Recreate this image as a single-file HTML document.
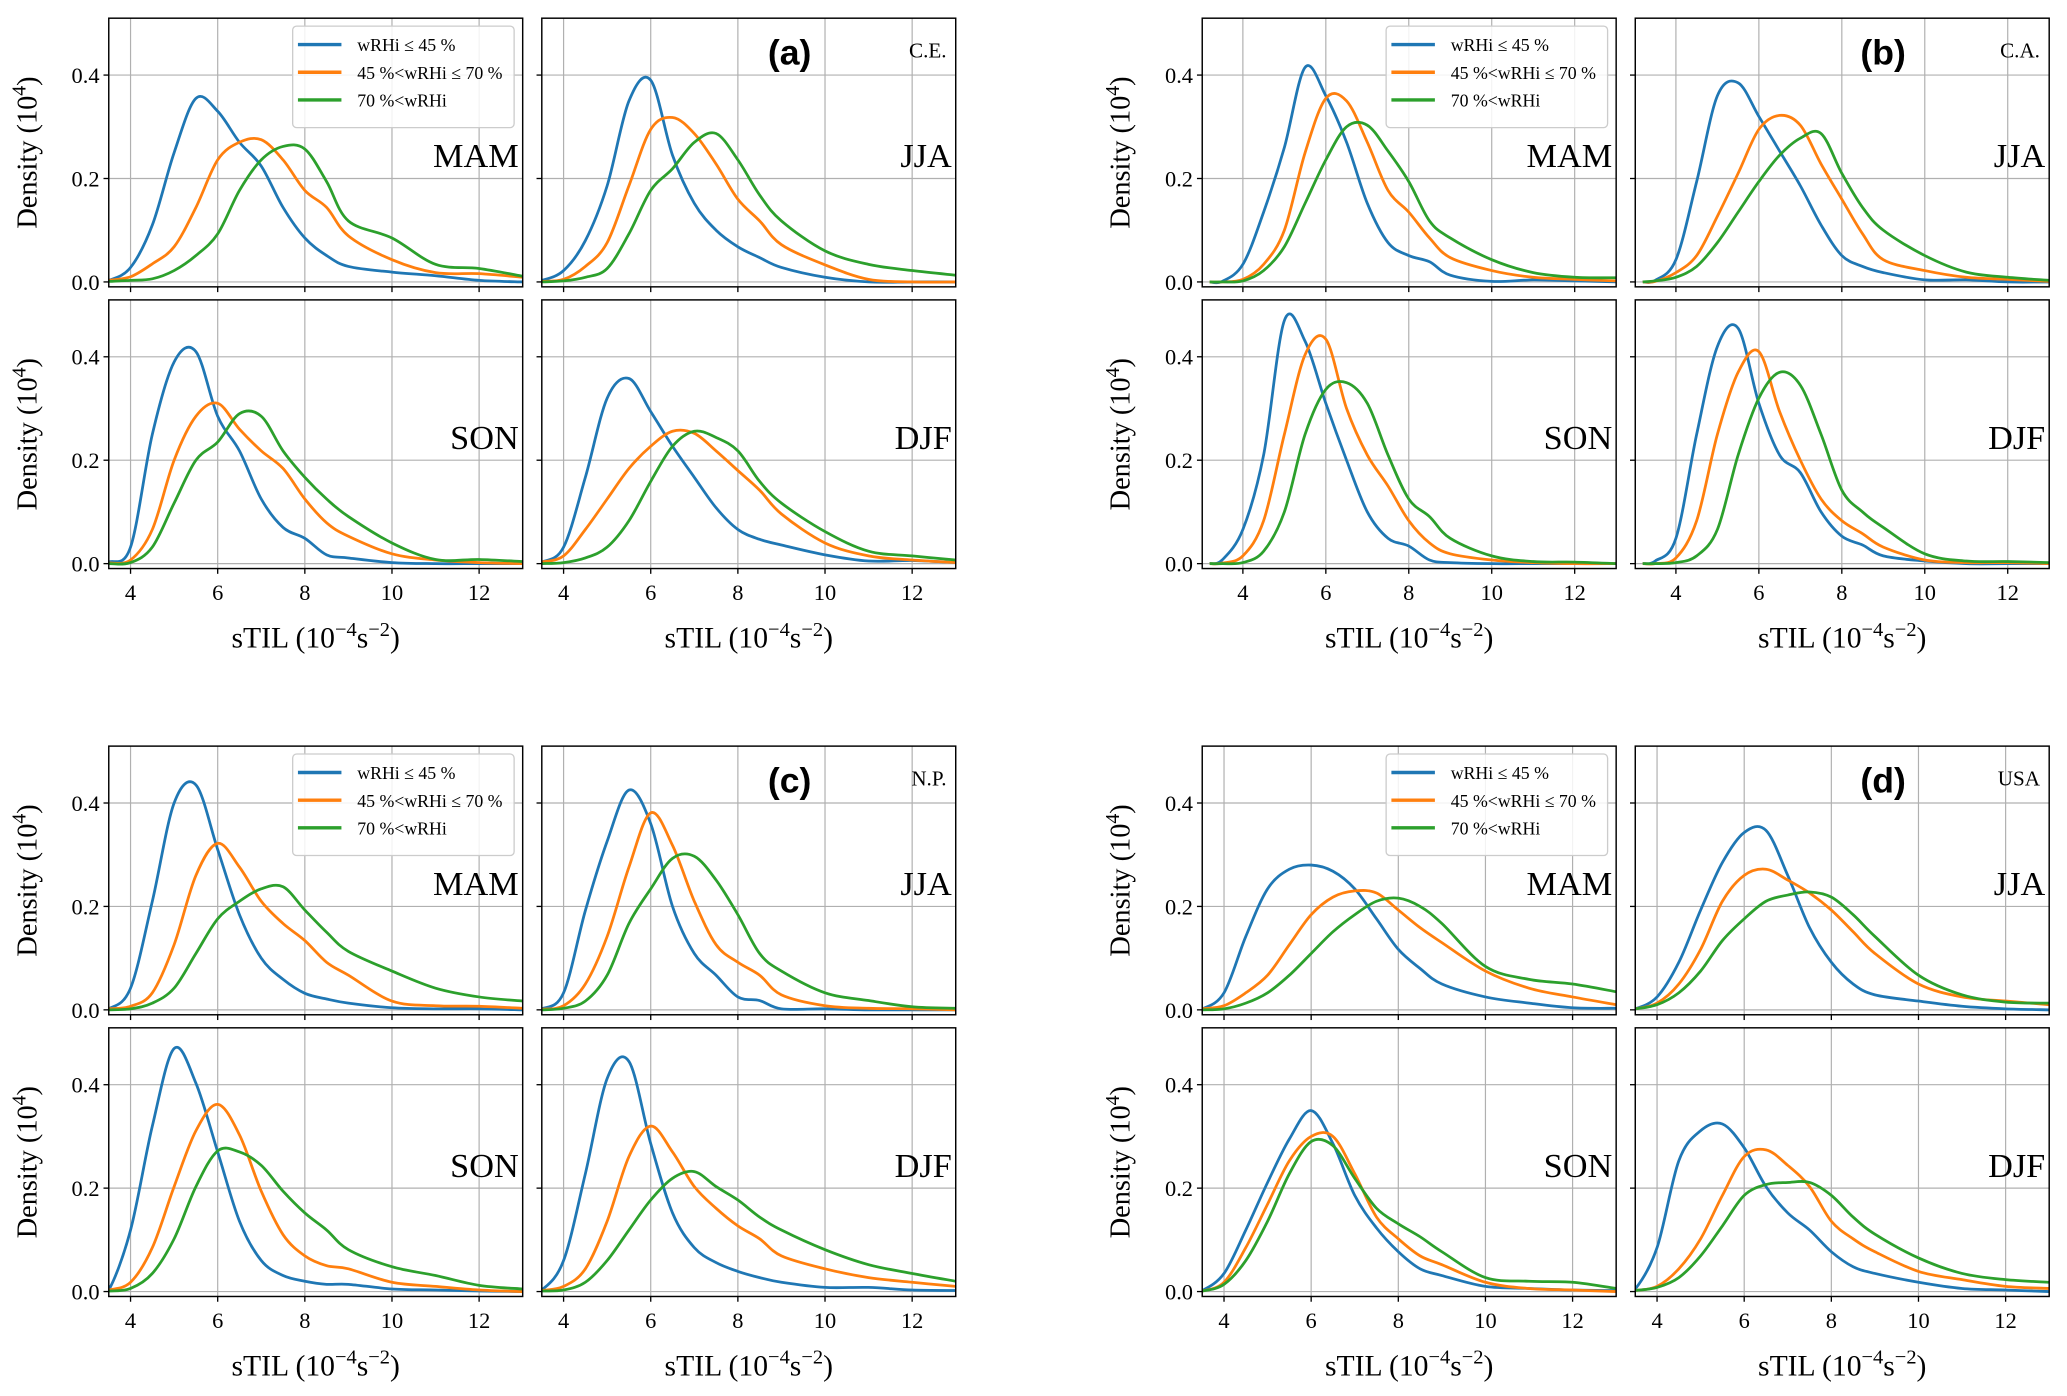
<!DOCTYPE html>
<html><head><meta charset="utf-8"><title>sTIL density</title>
<style>
html,body{margin:0;padding:0;background:#fff;}
svg{display:block;}
text{font-family:"Liberation Serif",serif;fill:#000;}
</style></head>
<body>
<svg id="chart" xmlns="http://www.w3.org/2000/svg" width="2067" height="1396" viewBox="0 0 1568 1059">
<rect width="1568" height="1059" fill="#fff"/>
</svg>
<script>
// shared x grid (sTIL, 1e-4 s^-2)
const xGrid = [3.2,3.5,4,4.5,5,5.5,6,6.5,7,7.5,8,8.5,9,10,11,12,13];
const seasons = ['MAM','JJA','SON','DJF'];
const seriesLabels = ['wRHi ≤ 45 %','45 %<wRHi ≤ 70 %','70 %<wRHi'];
const yTicks = [0.0,0.2,0.4];
const yTickLabels = ['0.0','0.2','0.4'];
const xTicks = [4,6,8,10,12];
const xTickLabels = ['4','6','8','10','12'];

// (a) C.E.
const a_MAM_low  = [0,0.003,0.028,0.11,0.25,0.355,0.33,0.27,0.224,0.144,0.085,0.051,0.03,0.019,0.012,0.003,0];
const a_MAM_mid  = [0,0.003,0.01,0.035,0.068,0.144,0.236,0.27,0.275,0.236,0.177,0.144,0.089,0.043,0.018,0.016,0.009];
const a_MAM_high = [0,0.001,0.003,0.006,0.022,0.051,0.093,0.177,0.236,0.262,0.257,0.194,0.118,0.085,0.034,0.026,0.011];
const a_JJA_low  = [0,0.003,0.022,0.08,0.186,0.35,0.39,0.245,0.152,0.1,0.068,0.047,0.028,0.009,0,0,0];
const a_JJA_mid  = [0,0.001,0.005,0.03,0.076,0.186,0.295,0.318,0.287,0.228,0.16,0.118,0.072,0.033,0.005,0,0];
const a_JJA_high = [0,0,0.002,0.009,0.026,0.093,0.177,0.219,0.27,0.287,0.236,0.168,0.118,0.06,0.034,0.022,0.013];
const a_SON_low  = [0,0.003,0.032,0.25,0.39,0.41,0.285,0.218,0.125,0.07,0.049,0.017,0.011,0.002,0,0,0];
const a_SON_mid  = [0,0.001,0.007,0.066,0.2,0.285,0.31,0.26,0.218,0.184,0.125,0.079,0.053,0.019,0.007,0.002,0];
const a_SON_high = [0,0,0.002,0.032,0.117,0.2,0.235,0.29,0.285,0.218,0.167,0.125,0.091,0.04,0.008,0.008,0.004];
const a_DJF_low  = [0,0.003,0.032,0.167,0.32,0.358,0.294,0.227,0.167,0.108,0.066,0.047,0.036,0.017,0.005,0.006,0.002];
const a_DJF_mid  = [0,0.003,0.015,0.066,0.125,0.184,0.227,0.256,0.252,0.218,0.18,0.142,0.096,0.04,0.015,0.007,0.002];
const a_DJF_high = [0,0,0.002,0.011,0.032,0.083,0.159,0.227,0.256,0.244,0.218,0.159,0.117,0.062,0.024,0.015,0.007];
// (b) C.A.
const b_MAM_low  = [0,0.001,0.034,0.135,0.26,0.415,0.36,0.27,0.152,0.076,0.051,0.039,0.013,0.001,0.004,0.002,0];
const b_MAM_mid  = [0,0,0.005,0.034,0.1,0.25,0.355,0.35,0.27,0.177,0.135,0.085,0.047,0.022,0.009,0.005,0.002];
const b_MAM_high = [0,0,0.002,0.022,0.068,0.152,0.236,0.3,0.303,0.253,0.194,0.118,0.085,0.043,0.018,0.009,0.008];
const b_JJA_low  = [0,0.003,0.043,0.194,0.36,0.385,0.32,0.253,0.186,0.11,0.051,0.03,0.018,0.004,0.004,0,0];
const b_JJA_mid  = [0,0.001,0.018,0.051,0.127,0.21,0.295,0.322,0.303,0.228,0.16,0.093,0.043,0.022,0.009,0.005,0.001];
const b_JJA_high = [0,0.002,0.009,0.03,0.076,0.135,0.194,0.245,0.278,0.287,0.21,0.144,0.1,0.051,0.019,0.009,0.003];
const b_SON_low  = [0,0.007,0.066,0.21,0.47,0.43,0.31,0.2,0.1,0.049,0.034,0.007,0.002,0,0,0,0];
const b_SON_mid  = [0,0.001,0.015,0.083,0.25,0.404,0.434,0.3,0.21,0.15,0.083,0.04,0.019,0.007,0.002,0,0];
const b_SON_high = [0,0,0.002,0.024,0.1,0.25,0.337,0.35,0.31,0.21,0.125,0.091,0.049,0.015,0.004,0.003,0];
const b_DJF_low  = [0,0.005,0.049,0.25,0.42,0.455,0.31,0.21,0.176,0.1,0.053,0.036,0.015,0.005,0,0,0];
const b_DJF_mid  = [0,0,0.011,0.083,0.25,0.37,0.41,0.294,0.2,0.125,0.083,0.058,0.032,0.007,0.002,0.002,0];
const b_DJF_high = [0,0,0.002,0.015,0.066,0.21,0.32,0.37,0.345,0.25,0.142,0.1,0.07,0.019,0.005,0.004,0.002];
// (c) N.P.
const c_MAM_low  = [0,0.002,0.042,0.21,0.4,0.435,0.31,0.184,0.1,0.059,0.032,0.021,0.013,0.004,0.002,0.002,0];
const c_MAM_mid  = [0,0.002,0.007,0.033,0.126,0.26,0.322,0.276,0.21,0.167,0.134,0.092,0.067,0.017,0.008,0.007,0.003];
const c_MAM_high = [0,0,0.002,0.013,0.042,0.109,0.176,0.21,0.234,0.238,0.193,0.15,0.113,0.075,0.042,0.025,0.017];
const c_JJA_low  = [0,0.002,0.033,0.192,0.326,0.425,0.36,0.2,0.109,0.067,0.025,0.018,0.002,0.002,0,0,0];
const c_JJA_mid  = [0,0.001,0.008,0.05,0.142,0.276,0.381,0.318,0.21,0.126,0.092,0.067,0.029,0.008,0.003,0.002,0];
const c_JJA_high = [0,0,0.003,0.017,0.067,0.167,0.234,0.293,0.297,0.251,0.184,0.109,0.075,0.033,0.018,0.006,0.003];
const c_SON_low  = [0,0.003,0.119,0.32,0.47,0.403,0.27,0.136,0.06,0.031,0.02,0.014,0.014,0.005,0.003,0.001,0];
const c_SON_mid  = [0,0.003,0.018,0.085,0.203,0.311,0.362,0.303,0.194,0.11,0.069,0.05,0.044,0.018,0.01,0.003,0];
const c_SON_high = [0,0.001,0.006,0.035,0.102,0.203,0.272,0.27,0.244,0.194,0.152,0.119,0.081,0.048,0.031,0.012,0.005];
const c_DJF_low  = [0,0.003,0.06,0.228,0.412,0.445,0.286,0.152,0.085,0.056,0.039,0.027,0.018,0.008,0.008,0.003,0.002];
const c_DJF_mid  = [0,0.002,0.01,0.044,0.136,0.261,0.32,0.27,0.203,0.161,0.127,0.102,0.069,0.044,0.027,0.018,0.01];
const c_DJF_high = [0,0.001,0.003,0.018,0.06,0.119,0.177,0.219,0.232,0.203,0.177,0.144,0.119,0.081,0.052,0.035,0.02];
// (d) USA
const d_MAM_low  = [0,0.002,0.033,0.142,0.234,0.272,0.28,0.268,0.234,0.176,0.117,0.08,0.05,0.025,0.013,0.004,0.003];
const d_MAM_mid  = [0,0.002,0.008,0.033,0.067,0.126,0.184,0.218,0.23,0.226,0.193,0.159,0.13,0.075,0.042,0.025,0.01];
const d_MAM_high = [0,0,0.002,0.013,0.033,0.067,0.109,0.151,0.184,0.21,0.216,0.2,0.167,0.084,0.059,0.05,0.035];
const d_JJA_low  = [0,0.002,0.025,0.092,0.193,0.285,0.343,0.347,0.26,0.159,0.092,0.05,0.029,0.017,0.007,0.002,0];
const d_JJA_mid  = [0,0.002,0.013,0.05,0.117,0.21,0.26,0.272,0.251,0.226,0.193,0.151,0.109,0.05,0.025,0.017,0.01];
const d_JJA_high = [0,0.002,0.01,0.033,0.075,0.134,0.176,0.21,0.222,0.228,0.218,0.184,0.142,0.067,0.029,0.015,0.013];
const d_SON_low  = [0,0.002,0.035,0.119,0.211,0.295,0.35,0.286,0.186,0.123,0.077,0.044,0.031,0.01,0.006,0.003,0.002];
const d_SON_mid  = [0,0.001,0.018,0.085,0.169,0.253,0.3,0.3,0.228,0.144,0.102,0.069,0.052,0.018,0.006,0.003,0];
const d_SON_high = [0,0.001,0.014,0.06,0.136,0.228,0.29,0.282,0.219,0.161,0.131,0.106,0.077,0.027,0.02,0.018,0.006];
const d_DJF_low  = [0,0.005,0.085,0.253,0.311,0.324,0.278,0.203,0.152,0.119,0.077,0.048,0.035,0.018,0.006,0.003,0];
const d_DJF_mid  = [0,0.002,0.01,0.044,0.102,0.186,0.261,0.274,0.244,0.203,0.136,0.102,0.077,0.039,0.023,0.01,0.006];
const d_DJF_high = [0,0.002,0.008,0.027,0.069,0.127,0.186,0.207,0.211,0.211,0.186,0.144,0.111,0.065,0.035,0.023,0.018];

const seriesData = {
 a:{MAM:[a_MAM_low,a_MAM_mid,a_MAM_high],JJA:[a_JJA_low,a_JJA_mid,a_JJA_high],SON:[a_SON_low,a_SON_mid,a_SON_high],DJF:[a_DJF_low,a_DJF_mid,a_DJF_high]},
 b:{MAM:[b_MAM_low,b_MAM_mid,b_MAM_high],JJA:[b_JJA_low,b_JJA_mid,b_JJA_high],SON:[b_SON_low,b_SON_mid,b_SON_high],DJF:[b_DJF_low,b_DJF_mid,b_DJF_high]},
 c:{MAM:[c_MAM_low,c_MAM_mid,c_MAM_high],JJA:[c_JJA_low,c_JJA_mid,c_JJA_high],SON:[c_SON_low,c_SON_mid,c_SON_high],DJF:[c_DJF_low,c_DJF_mid,c_DJF_high]},
 d:{MAM:[d_MAM_low,d_MAM_mid,d_MAM_high],JJA:[d_JJA_low,d_JJA_mid,d_JJA_high],SON:[d_SON_low,d_SON_mid,d_SON_high],DJF:[d_DJF_low,d_DJF_mid,d_DJF_high]}
};

const colors = ['#1f77b4','#ff7f0e','#2ca02c'];
const figures = [
 {id:'a', region:'C.E.', left:82.5, top:13.8, xmin:3.5},
 {id:'b', region:'C.A.', left:912, top:13.8, xmin:3.02},
 {id:'c', region:'N.P.', left:82.5, top:566, xmin:3.5},
 {id:'d', region:'USA', left:912, top:566, xmin:3.5}
];
const PW=314, PH=203.8, COLGAP=328.5, ROWGAP=213.7, XMAX=13.0, YMIN=-0.0095, YMAX=0.51;
const NS='http://www.w3.org/2000/svg';
const svg=document.getElementById('chart');
function mk(tag, attrs, parent){const e=document.createElementNS(NS,tag);for(const k in attrs)e.setAttribute(k,attrs[k]);(parent||svg).appendChild(e);return e;}
function catmull(pts){
  let d='M'+pts[0][0].toFixed(2)+','+pts[0][1].toFixed(2);
  for(let i=0;i<pts.length-1;i++){
    const p0=pts[i-1]||pts[i],p1=pts[i],p2=pts[i+1],p3=pts[i+2]||p2;
    const c1x=p1[0]+(p2[0]-p0[0])/6,c1y=p1[1]+(p2[1]-p0[1])/6;
    const c2x=p2[0]-(p3[0]-p1[0])/6,c2y=p2[1]-(p3[1]-p1[1])/6;
    d+='C'+c1x.toFixed(2)+','+c1y.toFixed(2)+' '+c2x.toFixed(2)+','+c2y.toFixed(2)+' '+p2[0].toFixed(2)+','+p2[1].toFixed(2);
  }
  return d;
}
let clipN=0;
figures.forEach(fig=>{
  const g=mk('g',{});
  
  
  seasons.forEach((s,si)=>{
    const col=si%2,row=Math.floor(si/2);
    const L=fig.left+col*COLGAP, T=fig.top+row*ROWGAP;
    const xs=v=>L+(v-fig.xmin)/(XMAX-fig.xmin)*PW;
    const ys=v=>T+PH-(v-YMIN)/(YMAX-YMIN)*PH;
    const pg=mk('g',{},g);
    
    
    xTicks.forEach(t=>{const x=xs(t);if(x>L&&x<L+PW){const l=mk('line',{x1:x,x2:x,y1:T,y2:T+PH,stroke:'#b0b0b0','stroke-width':0.9},pg);}});
    yTicks.forEach(t=>{const y=ys(t);const l=mk('line',{x1:L,x2:L+PW,y1:y,y2:y,stroke:'#b0b0b0','stroke-width':0.9},pg);});
    const cid='clip'+(clipN++);
    const cp=mk('clipPath',{id:cid},pg);mk('rect',{x:L,y:T,width:PW,height:PH},cp);
    const cg=mk('g',{'clip-path':'url(#'+cid+')'},pg);
    seriesData[fig.id][s].forEach((arr,k)=>{
      const pts=arr.map((v,i)=>[xs(xGrid[i]),ys(v)]);
      const p=mk('path',{d:catmull(pts),fill:'none',stroke:colors[k],'stroke-width':2.1,'stroke-linejoin':'round'},cg);
      
      
    });
    const fr=mk('rect',{x:L,y:T,width:PW,height:PH,fill:'none',stroke:'#000','stroke-width':1.1},pg);
    
    
    xTicks.forEach((t,i)=>{const x=xs(t);mk('line',{x1:x,x2:x,y1:T+PH,y2:T+PH+4,stroke:'#000','stroke-width':1},pg);
      if(row===1){const tx=mk('text',{x:x,y:T+PH+24,'text-anchor':'middle','font-size':17},pg);tx.textContent=xTickLabels[i];
        }});
    yTicks.forEach((t,i)=>{const y=ys(t);mk('line',{x1:L-4,x2:L,y1:y,y2:y,stroke:'#000','stroke-width':1},pg);
      if(col===0){const tx=mk('text',{x:L-7,y:y+6,'text-anchor':'end','font-size':17},pg);tx.textContent=yTickLabels[i];
        }});
    const sl=mk('text',{x:L+PW-3,y:T+113,'text-anchor':'end','font-size':26},pg);sl.textContent=s;
    
    
    if(col===0){
      const cy=T+PH/2, cx=L-55;
      const yl=mk('text',{x:cx,y:cy,'text-anchor':'middle','font-size':21.5,transform:'rotate(-90 '+cx+' '+cy+')'},pg);
      
      
      yl.innerHTML='Density (10<tspan dy="-8" font-size="15">4</tspan><tspan dy="8">)</tspan>';
    }
    if(row===1){
      const xl=mk('text',{x:L+PW/2,y:T+PH+60,'text-anchor':'middle','font-size':22.5},pg);
      
      
      xl.innerHTML='sTIL (10<tspan dy="-9" font-size="15.5">−4</tspan><tspan dy="9">s</tspan><tspan dy="-9" font-size="15.5">−2</tspan><tspan dy="9">)</tspan>';
    }
    if(si===0){
      const lg=mk('g',{},pg);
      
      
      const lx=L+139.5, ly=T+6;
      mk('rect',{x:lx,y:ly,width:168,height:77,rx:3,fill:'#fff','fill-opacity':0.85,stroke:'#ccc','stroke-width':1},lg);
      seriesLabels.forEach((lab,k)=>{
        const yy=ly+14+k*21;
        const ll=mk('line',{x1:lx+4,x2:lx+37,y1:yy,y2:yy,stroke:colors[k],'stroke-width':2.6},lg);
        
        
        const lt=mk('text',{x:lx+49,y:yy+5,'font-size':13.5},lg);lt.textContent=lab;
        
        
      });
    }
    if(si===1){
      const tag=mk('text',{x:L+188,y:T+35,'text-anchor':'middle','font-size':27,'font-weight':'bold',style:'font-family:"Liberation Sans",sans-serif'},pg);
      tag.textContent='('+fig.id+')';
      
      
      const rg=mk('text',{x:L+PW-7,y:T+30,'text-anchor':'end','font-size':16},pg);
      rg.textContent=fig.region;
      
      
    }
  });
});
</script>
</body></html>
